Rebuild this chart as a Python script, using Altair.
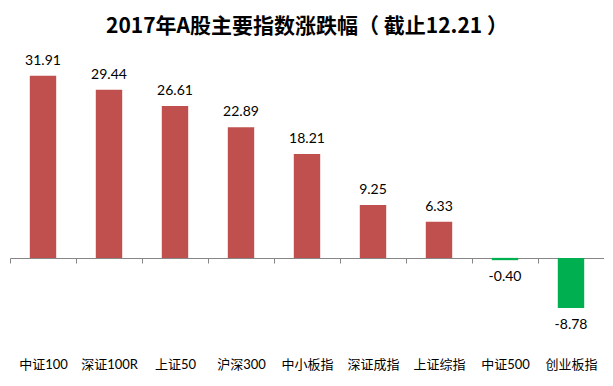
import altair as alt
import pandas as pd

categories = ["中证100", "深证100R", "上证50", "沪深300", "中小板指", "深证成指", "上证综指", "中证500", "创业板指"]
values = [31.91, 29.44, 26.61, 22.89, 18.21, 9.25, 6.33, -0.40, -8.78]

df = pd.DataFrame({"cat": categories, "val": values})
df["label"] = df["val"].map(lambda v: f"{v:.2f}")

FONT = "Lato, 'Noto Sans CJK SC', sans-serif"

x = alt.X("cat:N", sort=categories, title=None,
          scale=alt.Scale(paddingInner=0, paddingOuter=0),
          axis=alt.Axis(orient="bottom", offset=-57, domainColor="#868686", domainWidth=1,
                        tickColor="#868686", tickSize=5, tickBand="extent",
                        labelAngle=0, labelPadding=95, labelBaseline="top",
                        labelFont=FONT, labelFontSize=13, labelColor="#000000",
                        labelLimit=100, grid=False))
y = alt.Y("val:Q", scale=alt.Scale(domain=[-10, 35], nice=False, zero=False), axis=None)

base = alt.Chart(df)

bars = base.mark_bar(width=alt.RelativeBandSize(0.4)).encode(
    x=x, y=y,
    color=alt.condition(alt.datum.val >= 0, alt.value("#C0504D"), alt.value("#00B050")),
)

pos = base.transform_filter(alt.datum.val >= 0).mark_text(
    baseline="alphabetic", dy=-11, font=FONT, fontSize=14, color="#000000"
).encode(x=alt.X("cat:N", sort=categories), y="val:Q", text="label:N")

neg = base.transform_filter(alt.datum.val < 0).mark_text(
    baseline="top", dy=10, font=FONT, fontSize=14, color="#000000"
).encode(x=alt.X("cat:N", sort=categories), y="val:Q", text="label:N")

chart = alt.layer(bars, pos, neg).properties(
    width=594, height=257,
    title=alt.TitleParams("2017年A股主要指数涨跌幅（ 截止12.21 ）", font="'Noto Sans CJK SC'",
                          fontSize=21, fontWeight="bold", color="#000000",
                          anchor="middle", offset=17),
    autosize=alt.AutoSizeParams(type="none"),
    padding={"left": 2, "top": 50, "right": 0, "bottom": 60},
).configure_view(stroke=None)

chart.save("out.html", embed_options={"renderer": "svg", "actions": False})
